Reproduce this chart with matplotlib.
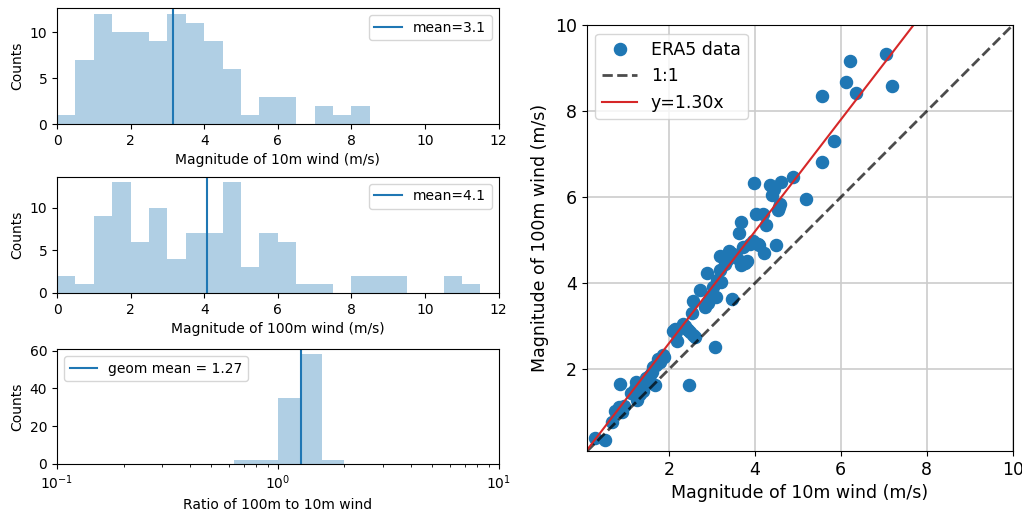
import numpy as np
import matplotlib
matplotlib.use("Agg")
import matplotlib.pyplot as plt

# ---- histogram data ----
bin_width = 0.5
counts_10m = [1, 7, 12, 10, 10, 9, 12, 11, 9, 6, 1, 3, 3, 0, 2, 1, 2]
counts_100m = [2, 1, 9, 13, 6, 10, 4, 7, 7, 13, 3, 7, 6, 1, 1, 0, 2, 2, 2, 0, 0, 2, 1]
log_ratio_first_edge = -0.2
log_ratio_width = 0.1
counts_ratio = [2, 2, 35, 58, 2]
mean_10m = 3.15
mean_100m = 4.07
geom_mean_ratio = 1.27
fit_slope = 1.30

# ---- scatter data (10 m wind, 100 m wind) ----
wind10 = [0.28, 0.52, 0.67, 0.76, 0.84, 0.87, 0.91, 0.97,
          1.12, 1.18, 1.22, 1.24, 1.26, 1.28, 1.33, 1.36, 1.40, 1.44, 1.46, 1.49,
          1.52, 1.57, 1.60, 1.64, 1.68, 1.70, 1.76, 1.80, 1.86, 1.90,
          2.48, 2.10, 2.14, 2.17, 2.20, 2.33, 2.38, 2.42, 2.45, 2.49,
          2.53, 2.57, 2.57, 2.60, 2.72, 2.84, 2.88, 2.91, 2.95,
          3.07, 3.04, 3.10, 3.11, 3.19, 3.19, 3.22, 3.30, 3.35, 3.40, 3.46, 3.48,
          3.50, 3.58, 3.64, 3.69, 3.69, 3.73, 3.78, 3.81, 3.90, 3.96, 3.98,
          4.02, 4.08, 4.10, 4.20, 4.21, 4.27, 4.35, 4.39, 4.45,
          4.50, 4.54, 4.56, 4.58, 4.62, 4.89,
          5.19, 5.57, 5.56, 5.84, 6.21, 6.12, 6.35, 7.06, 7.20,
          7.80, 8.10, 8.40]
wind100 = [0.40, 0.36, 0.79, 1.04, 1.12, 1.65, 1.02, 1.15,
           1.45, 1.47, 1.55, 1.70, 1.28, 1.38, 1.43, 1.59, 1.50, 1.63, 1.80, 1.70,
           1.82, 1.88, 1.95, 2.05, 1.63, 2.10, 2.25, 2.18, 2.33, 2.28,
           1.63, 2.90, 2.95, 2.87, 2.67, 3.06, 3.02, 2.95, 2.92, 2.87,
           3.30, 2.79, 3.60, 2.75, 3.84, 3.45, 4.23, 3.55, 3.70,
           2.52, 3.92, 3.68, 4.07, 4.30, 4.63, 4.02, 4.45, 4.55, 4.75, 3.64, 4.68,
           4.69, 4.58, 5.16, 5.43, 4.43, 4.84, 4.47, 4.51, 4.92, 4.98, 6.33,
           5.60, 4.92, 4.88, 5.60, 4.70, 5.35, 6.29, 6.05, 6.20,
           4.88, 5.70, 5.78, 5.85, 6.36, 6.47,
           5.97, 8.36, 6.81, 7.30, 9.16, 8.68, 8.41, 9.32, 8.58,
           10.6, 10.9, 11.2]

C0 = "#1f77b4"
fig = plt.figure(figsize=(10.22, 5.11), dpi=100)

hs = 10  # hist font size
ax1 = fig.add_axes([0.0558, 0.757, 0.4322, 0.227])
ax2 = fig.add_axes([0.0558, 0.427, 0.4322, 0.227])
ax3 = fig.add_axes([0.0558, 0.092, 0.4322, 0.225])
ax4 = fig.add_axes([0.574, 0.117, 0.417, 0.834])


def lin_hist(ax, counts):
    e = np.arange(len(counts) + 1) * bin_width
    ax.hist(e[:-1], bins=e, weights=counts, color=C0, alpha=0.35)


lin_hist(ax1, counts_10m)
ax1.axvline(mean_10m, color=C0, lw=1.5, label=f"mean={mean_10m:.1f}")
ax1.set_xlim(0, 12)
ax1.set_xlabel("Magnitude of 10m wind (m/s)", fontsize=hs)
ax1.set_ylabel("Counts", fontsize=hs)
ax1.legend(loc="upper right", fontsize=hs)

lin_hist(ax2, counts_100m)
ax2.axvline(mean_100m, color=C0, lw=1.5, label=f"mean={mean_100m:.1f}")
ax2.set_xlim(0, 12)
ax2.set_xlabel("Magnitude of 100m wind (m/s)", fontsize=hs)
ax2.set_ylabel("Counts", fontsize=hs)
ax2.legend(loc="upper right", fontsize=hs)

e3 = 10 ** (log_ratio_first_edge + np.arange(len(counts_ratio) + 1) * log_ratio_width)
centers3 = np.sqrt(e3[:-1] * e3[1:])
ax3.hist(centers3, bins=e3, weights=counts_ratio, color=C0, alpha=0.35)
ax3.axvline(geom_mean_ratio, color=C0, lw=1.5, label=f"geom mean = {geom_mean_ratio:.2f}")
ax3.set_xscale("log")
ax3.set_xlim(0.1, 10)
ax3.set_xlabel("Ratio of 100m to 10m wind", fontsize=hs)
ax3.set_ylabel("Counts", fontsize=hs)
ax3.legend(loc="upper left", fontsize=hs)

for ax in (ax1, ax2, ax3):
    ax.tick_params(labelsize=hs)

ss = 12.5
ax4.plot(wind10, wind100, "o", color=C0, ms=8.7, label="ERA5 data")
ax4.axline((0, 0), slope=1.0, color="k", alpha=0.7, ls="--", lw=2, label="1:1")
ax4.axline((0, 0), slope=fit_slope, color="#d62728", lw=1.5, label=f"y={fit_slope:.2f}x")
ax4.set_xlim(0.09, 10)
ax4.set_ylim(0.1, 10)
ax4.set_xticks([2, 4, 6, 8, 10])
ax4.set_yticks([2, 4, 6, 8, 10])
ax4.grid(True, color="#cccccc", lw=1.2)
ax4.set_axisbelow(True)
ax4.set_xlabel("Magnitude of 10m wind (m/s)", fontsize=ss)
ax4.set_ylabel("Magnitude of 100m wind (m/s)", fontsize=ss)
ax4.tick_params(labelsize=ss)
ax4.legend(loc="upper left", fontsize=ss, numpoints=1)

fig.savefig("out.png", dpi=100)
